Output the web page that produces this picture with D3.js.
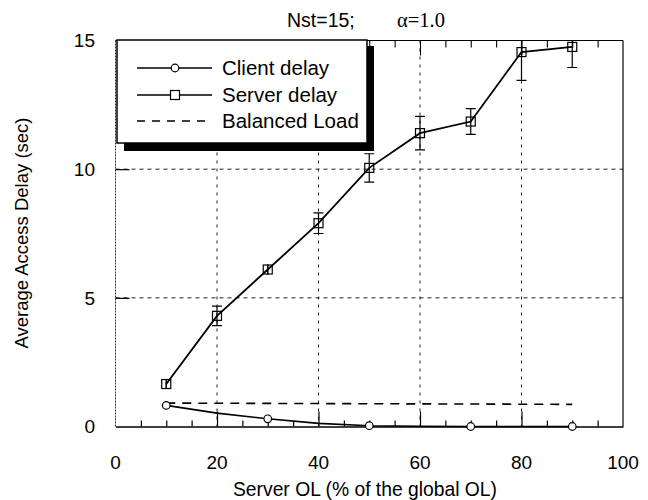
<!DOCTYPE html>
<html>
<head>
<meta charset="utf-8">
<script src="https://cdn.jsdelivr.net/npm/d3@7"></script>
<style>
  html, body { margin: 0; padding: 0; background: #fff; }
  svg { display: block; }
  text { font-family: "Liberation Sans", Arial, Helvetica, sans-serif; fill: #000; }
</style>
</head>
<body>
<svg id="chart" width="648" height="500"></svg>
<script>
// Server offered load (% of the global offered load)
const serverOL = [10, 20, 30, 40, 50, 60, 70, 80, 90];
// Average access delay (sec) seen by clients
const clientDelay = [0.82, 0.52, 0.30, 0.12, 0.03, 0.01, 0.0, 0.0, 0.0];
// Average access delay (sec) at the server, with confidence half-widths
const serverDelay = [1.65, 4.3, 6.1, 7.9, 10.05, 11.4, 11.85, 14.55, 14.75];
const serverErr = [0.15, 0.38, 0.2, 0.4, 0.55, 0.65, 0.5, 1.1, 0.8];
// Balanced-load reference level (end points)
const balancedX = [10, 90];
const balancedDelay = [0.91, 0.86];
// Client markers are drawn on every other sample
const clientMarkerX = [10, 30, 50, 70, 90];

const xTicks = [0, 20, 40, 60, 80, 100];
const yTicks = [0, 5, 10, 15];
const xGrid = [20, 40, 60, 80];
const yGrid = [5, 10];
const legendLabels = ["Client delay", "Server delay", "Balanced Load"];

const svg = d3.select("#chart");
const L = 115.5, R = 623, T = 40.5, B = 426.5;
const x = d3.scaleLinear().domain([0, 100]).range([L, R]);
const y = d3.scaleLinear().domain([0, 15]).range([B, T]);

svg.append("defs").append("clipPath").attr("id", "plotClip")
  .append("rect").attr("x", L).attr("y", T).attr("width", R - L).attr("height", B - T);

// Grid lines
svg.append("g").selectAll("line").data(xGrid).join("line")
  .attr("x1", d => x(d)).attr("x2", d => x(d)).attr("y1", T).attr("y2", B)
  .attr("stroke", "#222").attr("stroke-width", 1).attr("stroke-dasharray", "3,5");
svg.append("g").selectAll("line").data(yGrid).join("line")
  .attr("x1", L).attr("x2", R).attr("y1", d => y(d)).attr("y2", d => y(d))
  .attr("stroke", "#222").attr("stroke-width", 1).attr("stroke-dasharray", "4,4");

// Frame
svg.append("line").attr("x1", L).attr("x2", R).attr("y1", T).attr("y2", T)
  .attr("stroke", "#000").attr("stroke-width", 1);
svg.append("line").attr("x1", R).attr("x2", R).attr("y1", T).attr("y2", B)
  .attr("stroke", "#000").attr("stroke-width", 1.2);
svg.append("line").attr("x1", L).attr("x2", L).attr("y1", T).attr("y2", B)
  .attr("stroke", "#333").attr("stroke-width", 1).attr("stroke-dasharray", "2,1");

// Bottom axis with inward ticks every 5
const xMinor = d3.range(0, 101, 5);
const xAxis = d3.axisBottom(x).tickValues(xMinor).tickSizeInner(0).tickSizeOuter(0).tickFormat("");
const gx = svg.append("g").attr("transform", `translate(0,${B})`).call(xAxis);
gx.select(".domain").attr("stroke", "#000").attr("stroke-width", 1.6);
gx.selectAll(".tick line").attr("y2", d => (d % 20 === 0 ? -15 : -6)).attr("stroke", "#000").attr("stroke-width", 1.2);
gx.selectAll(".tick").filter(d => d === 0 || d === 100).select("line").remove();

// Top axis ticks
const gt = svg.append("g").attr("transform", `translate(0,${T})`)
  .call(d3.axisTop(x).tickValues(xMinor.filter(d => d > 0 && d < 100)).tickSizeInner(0).tickSizeOuter(0).tickFormat(""));
gt.select(".domain").remove();
gt.selectAll(".tick line").attr("y2", d => (d % 20 === 0 ? 15 : 7)).attr("stroke", "#000").attr("stroke-width", 1.1);

// Left axis major ticks
const gy = svg.append("g").attr("transform", `translate(${L},0)`)
  .call(d3.axisLeft(y).tickValues(yGrid).tickSizeInner(0).tickSizeOuter(0).tickFormat(""));
gy.select(".domain").remove();
gy.selectAll(".tick line").attr("x2", 14).attr("stroke", "#000").attr("stroke-width", 1.2);

// Tick labels
svg.append("g").selectAll("text").data(xTicks).join("text")
  .attr("x", d => x(d)).attr("y", 469).attr("text-anchor", "middle")
  .attr("font-size", 19).text(d => d);
svg.append("g").selectAll("text").data(yTicks).join("text")
  .attr("x", 95).attr("y", d => y(d)).attr("dy", "0.36em").attr("text-anchor", "end")
  .attr("font-size", 19).text(d => d);

// Axis titles
svg.append("text").attr("x", 365).attr("y", 496).attr("text-anchor", "middle")
  .attr("font-size", 19.3).text("Server OL (% of the global OL)");
svg.append("text").attr("transform", "translate(28,233) rotate(-90)").attr("text-anchor", "middle")
  .attr("font-size", 18.5).text("Average Access Delay (sec)");

// Title
const title = svg.append("text").attr("y", 27).attr("font-size", 19.5);
title.append("tspan").attr("x", 287).text("Nst=15;");
title.append("tspan").attr("x", 397).attr("font-family", "'Liberation Serif', 'Times New Roman', serif")
  .attr("font-size", 20.5).text("\u03B1=1.0");

// Balanced load reference
const balanced = balancedX.map((v, i) => [v, balancedDelay[i]]);
svg.append("path").datum(balanced)
  .attr("d", d3.line().x(d => x(d[0])).y(d => y(d[1])))
  .attr("fill", "none").attr("stroke", "#000").attr("stroke-width", 1.6).attr("stroke-dasharray", "9,7");

// Client delay
const client = serverOL.map((v, i) => [v, clientDelay[i]]);
svg.append("path").datum(client)
  .attr("d", d3.line().x(d => x(d[0])).y(d => y(d[1])))
  .attr("fill", "none").attr("stroke", "#000").attr("stroke-width", 1.6);
svg.append("g").selectAll("circle").data(client.filter(d => clientMarkerX.includes(d[0]))).join("circle")
  .attr("cx", d => x(d[0])).attr("cy", d => y(d[1])).attr("r", 3.8)
  .attr("fill", "#fff").attr("stroke", "#000").attr("stroke-width", 1.2);

// Server delay with error bars
const server = serverOL.map((v, i) => ({ x: v, y: serverDelay[i], e: serverErr[i] }));
const eb = svg.append("g").attr("clip-path", "url(#plotClip)");
eb.selectAll("line.v").data(server).join("line").attr("class", "v")
  .attr("x1", d => x(d.x)).attr("x2", d => x(d.x))
  .attr("y1", d => y(d.y - d.e)).attr("y2", d => y(d.y + d.e))
  .attr("stroke", "#000").attr("stroke-width", 1.2);
eb.selectAll("line.lo").data(server.filter(d => d.e > 0.2)).join("line").attr("class", "lo")
  .attr("x1", d => x(d.x) - 5).attr("x2", d => x(d.x) + 5)
  .attr("y1", d => y(d.y - d.e)).attr("y2", d => y(d.y - d.e))
  .attr("stroke", "#000").attr("stroke-width", 1.2);
eb.selectAll("line.hi").data(server.filter(d => d.e > 0.2)).join("line").attr("class", "hi")
  .attr("x1", d => x(d.x) - 5).attr("x2", d => x(d.x) + 5)
  .attr("y1", d => y(d.y + d.e)).attr("y2", d => y(d.y + d.e))
  .attr("stroke", "#000").attr("stroke-width", 1.2);
svg.append("path").datum(server)
  .attr("d", d3.line().x(d => x(d.x)).y(d => y(d.y)))
  .attr("fill", "none").attr("stroke", "#000").attr("stroke-width", 1.8);
svg.append("g").selectAll("rect").data(server).join("rect")
  .attr("x", d => x(d.x) - 4.5).attr("y", d => y(d.y) - 4.5).attr("width", 9).attr("height", 9)
  .attr("fill", "none").attr("stroke", "#000").attr("stroke-width", 1.2);
svg.append("g").selectAll("line").data(server.filter(d => d.e <= 0.2)).join("line")
  .attr("x1", d => x(d.x)).attr("x2", d => x(d.x))
  .attr("y1", d => y(d.y - d.e)).attr("y2", d => y(d.y + d.e))
  .attr("stroke", "#000").attr("stroke-width", 1.2);

// Legend with drop shadow
const lg = svg.append("g");
lg.append("rect").attr("x", 124).attr("y", 46).attr("width", 250).attr("height", 105).attr("fill", "#000");
lg.append("rect").attr("x", 117).attr("y", 40).attr("width", 250).attr("height", 103)
  .attr("fill", "#fff").attr("stroke", "#000").attr("stroke-width", 1.5);
const rows = [68, 95, 121];
legendLabels.forEach((lab, i) => {
  const ly = rows[i];
  lg.append("line").attr("x1", 137).attr("x2", 212).attr("y1", ly).attr("y2", ly)
    .attr("stroke", "#000").attr("stroke-width", i === 2 ? 1.4 : 1.6)
    .attr("stroke-dasharray", i === 2 ? "8,7" : null);
  if (i === 0) {
    lg.append("circle").attr("cx", 175).attr("cy", ly).attr("r", 3.8)
      .attr("fill", "#fff").attr("stroke", "#000").attr("stroke-width", 1.2);
  } else if (i === 1) {
    lg.append("rect").attr("x", 170.5).attr("y", ly - 4.5).attr("width", 9).attr("height", 9)
      .attr("fill", "#fff").attr("stroke", "#000").attr("stroke-width", 1.2);
  }
  lg.append("text").attr("x", 222).attr("y", ly).attr("dy", "0.36em")
    .attr("font-size", 20.5).text(lab);
});
</script>
</body>
</html>
